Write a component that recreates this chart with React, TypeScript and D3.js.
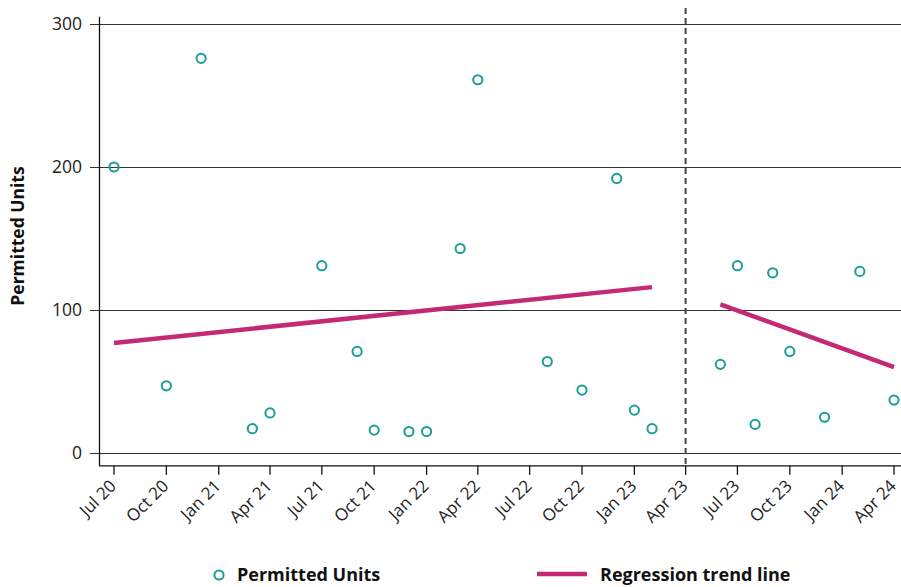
import React from "react";
import * as d3 from "d3";

// Monthly permitted units (month start dates)
const months: string[] = [
  "2020-07", "2020-10", "2020-12", "2021-03", "2021-04", "2021-07", "2021-09",
  "2021-10", "2021-12", "2022-01", "2022-03", "2022-04", "2022-08", "2022-10",
  "2022-12", "2023-01", "2023-02", "2023-06", "2023-07", "2023-08", "2023-09",
  "2023-10", "2023-12", "2024-02", "2024-04",
];
const units: number[] = [
  200, 47, 276, 17, 28, 131, 71, 16, 15, 15, 143, 261, 64, 44, 192, 30, 17,
  62, 131, 20, 126, 71, 25, 127, 37,
];

// Regression trend segments, before and after the break
const trendBeforeMonths: string[] = ["2020-07", "2023-02"];
const trendBeforeValues: number[] = [77, 116];
const trendAfterMonths: string[] = ["2023-06", "2024-04"];
const trendAfterValues: number[] = [104, 60];

const breakMonth = "2023-04";

const tickMonths: string[] = [
  "2020-07", "2020-10", "2021-01", "2021-04", "2021-07", "2021-10", "2022-01",
  "2022-04", "2022-07", "2022-10", "2023-01", "2023-04", "2023-07", "2023-10",
  "2024-01", "2024-04",
];
const yTicks: number[] = [0, 100, 200, 300];

const W = 901;
const H = 587;
const TEAL = "#1a9e96";
const MAGENTA = "#c42a74";
const FONT = "'Open Sans', Lato, sans-serif";

const parse = d3.timeParse("%Y-%m");
const monthNames = ["Jan", "Feb", "Mar", "Apr", "May", "Jun", "Jul", "Aug", "Sep", "Oct", "Nov", "Dec"];
const fmt = (d: Date) => `${monthNames[d.getMonth()]} ${String(d.getFullYear()).slice(2)}`;

export default function App() {
  const x = d3
    .scaleTime()
    .domain([parse("2020-07")!, parse("2024-04")!])
    .range([114, 894]);
  const y = d3.scaleLinear().domain([0, 300]).range([453, 24]);

  const frameLeft = 99;
  const frameBottom = y(-9);
  const frameTop = y(305);

  const pts = months.map((m, i) => ({ d: parse(m)!, v: units[i] }));
  const line = d3
    .line<{ d: Date; v: number }>()
    .x((p) => x(p.d))
    .y((p) => y(p.v));
  const seg1 = trendBeforeMonths.map((m, i) => ({ d: parse(m)!, v: trendBeforeValues[i] }));
  const seg2 = trendAfterMonths.map((m, i) => ({ d: parse(m)!, v: trendAfterValues[i] }));
  const bx = x(parse(breakMonth)!);

  return (
    <svg
      width={W}
      height={H}
      style={{ position: "absolute", left: 0, top: 0, background: "#fff" }}
      fontFamily={FONT}
    >
      {/* horizontal gridlines with left ticks */}
      {yTicks.map((t) => (
        <g key={t}>
          <line x1={90} x2={W} y1={Math.round(y(t)) + 0.5} y2={Math.round(y(t)) + 0.5} stroke="#333" strokeWidth={1} />
          <text x={82} y={y(t)} dy="0.36em" textAnchor="end" fontSize={17.5} fill="#222">
            {t}
          </text>
        </g>
      ))}

      {/* axis frame */}
      <line x1={frameLeft + 0.5} x2={frameLeft + 0.5} y1={frameTop} y2={frameBottom} stroke="#111" strokeWidth={1.3} />
      <line x1={frameLeft} x2={W} y1={frameBottom} y2={frameBottom} stroke="#111" strokeWidth={1.3} />

      {/* x ticks and rotated labels */}
      {tickMonths.map((m) => {
        const d = parse(m)!;
        const tx = x(d);
        return (
          <g key={m}>
            <line x1={tx} x2={tx} y1={frameBottom} y2={frameBottom + 9} stroke="#111" strokeWidth={1.3} />
            <text
              transform={`translate(${tx - 1},${frameBottom + 17}) rotate(-45)`}
              textAnchor="end"
              dy="0.35em"
              fontSize={17}
              fill="#222"
            >
              {fmt(d)}
            </text>
          </g>
        );
      })}

      {/* break marker */}
      <line x1={bx} x2={bx} y1={8} y2={frameBottom} stroke="#444" strokeWidth={2} strokeDasharray="6,4" />

      {/* trend lines */}
      <path d={line(seg1)!} stroke={MAGENTA} strokeWidth={4.5} fill="none" />
      <path d={line(seg2)!} stroke={MAGENTA} strokeWidth={4.5} fill="none" />

      {/* observations */}
      {pts.map((p, i) => (
        <circle key={i} cx={x(p.d)} cy={y(p.v)} r={4.6} fill="none" stroke={TEAL} strokeWidth={2} />
      ))}

      {/* y-axis title */}
      <text
        transform={`translate(24,${236}) rotate(-90)`}
        textAnchor="middle"
        fontSize={17.5}
        fontWeight={700}
        fill="#111"
      >
        Permitted Units
      </text>

      {/* legend */}
      <circle cx={219} cy={575} r={4.6} fill="none" stroke={TEAL} strokeWidth={2} />
      <text x={237} y={575} dy="0.36em" fontSize={18} fontWeight={700} fill="#111">
        Permitted Units
      </text>
      <line x1={537} x2={587} y1={574} y2={574} stroke={MAGENTA} strokeWidth={4.5} />
      <text x={600} y={575} dy="0.36em" fontSize={18} fontWeight={700} fill="#111">
        Regression trend line
      </text>
    </svg>
  );
}
